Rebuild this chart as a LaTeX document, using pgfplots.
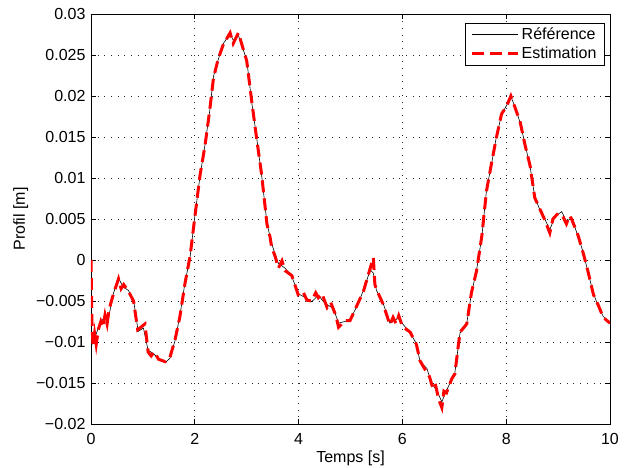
\documentclass[border=0pt]{standalone}
\usepackage{pgfplots}
\pgfplotsset{compat=1.18}
\usepackage{fontspec}
\setmainfont{Liberation Sans}

\pgfplotstableread{
x y
0 -0.0106
0.08 -0.0094
0.17 -0.0077
0.27 -0.0069
0.33 -0.0073
0.43 -0.0041
0.53 -0.0022
0.62 -0.0033
0.72 -0.0037
0.82 -0.0049
0.91 -0.0087
1.01 -0.0083
1.10 -0.0110
1.20 -0.0114
1.30 -0.0120
1.43 -0.0125
1.52 -0.0120
1.62 -0.0098
1.71 -0.0069
1.81 -0.0028
1.91 0.0004
2.00 0.0053
2.10 0.0102
2.20 0.0142
2.29 0.0183
2.36 0.0224
2.45 0.0244
2.55 0.0264
2.68 0.0276
2.74 0.0268
2.84 0.0274
3.00 0.0244
3.10 0.0191
3.19 0.0150
3.29 0.0102
3.39 0.0045
3.48 0.0020
3.61 -0.0004
3.74 -0.0010
3.87 -0.0020
3.99 -0.0041
4.16 -0.0047
4.25 -0.0051
4.38 -0.0043
4.51 -0.0053
4.67 -0.0059
4.77 -0.0077
4.89 -0.0075
4.99 -0.0073
5.12 -0.0057
5.25 -0.0037
5.38 -0.0012
5.44 -0.0016
5.50 -0.0037
5.63 -0.0053
5.76 -0.0077
5.92 -0.0071
6.02 -0.0079
6.15 -0.0089
6.27 -0.0102
6.34 -0.0124
6.47 -0.0132
6.56 -0.0150
6.66 -0.0159
6.76 -0.0173
6.85 -0.0159
6.95 -0.0146
7.01 -0.0138
7.11 -0.0089
7.24 -0.0077
7.33 -0.0041
7.43 -0.0012
7.53 0.0028
7.62 0.0085
7.72 0.0118
7.81 0.0150
7.91 0.0177
8.01 0.0189
8.09 0.0199
8.17 0.0187
8.27 0.0167
8.36 0.0142
8.46 0.0114
8.55 0.0077
8.65 0.0061
8.75 0.0049
8.84 0.0037
8.94 0.0053
9.07 0.0059
9.16 0.0047
9.26 0.0051
9.39 0.0028
9.49 0.0008
9.58 -0.0016
9.68 -0.0041
9.78 -0.0057
9.87 -0.0069
10 -0.0077
}\reftable

\pgfplotstableread{
x y
0 0.0000
0.02 -0.0080
0.04 -0.0106
0.07 -0.0090
0.10 -0.0103
0.14 -0.0085
0.19 -0.0075
0.23 -0.0082
0.27 -0.0067
0.31 -0.0078
0.35 -0.0060
0.43 -0.0042
0.53 -0.0023
0.58 -0.0035
0.63 -0.0030
0.72 -0.0038
0.82 -0.0050
0.90 -0.0085
0.96 -0.0082
1.04 -0.0078
1.10 -0.0112
1.16 -0.0117
1.22 -0.0112
1.30 -0.0121
1.43 -0.0124
1.52 -0.0119
1.62 -0.0097
1.71 -0.0070
1.81 -0.0029
1.91 0.0005
2.00 0.0052
2.10 0.0103
2.20 0.0141
2.29 0.0184
2.36 0.0222
2.45 0.0245
2.55 0.0263
2.68 0.0277
2.74 0.0264
2.84 0.0277
3.00 0.0243
3.10 0.0192
3.19 0.0149
3.29 0.0103
3.39 0.0044
3.45 0.0028
3.48 0.0016
3.55 0.0004
3.61 -0.0010
3.68 -0.0001
3.74 -0.0013
3.87 -0.0019
3.99 -0.0042
4.08 -0.0038
4.16 -0.0049
4.25 -0.0050
4.33 -0.0040
4.38 -0.0046
4.45 -0.0041
4.55 -0.0058
4.62 -0.0052
4.72 -0.0068
4.77 -0.0082
4.89 -0.0074
4.99 -0.0074
5.12 -0.0056
5.25 -0.0038
5.38 -0.0010
5.44 0.0003
5.47 -0.0030
5.50 -0.0036
5.63 -0.0054
5.76 -0.0079
5.82 -0.0070
5.88 -0.0078
5.93 -0.0068
6.00 -0.0081
6.15 -0.0088
6.27 -0.0103
6.34 -0.0123
6.45 -0.0135
6.52 -0.0142
6.58 -0.0155
6.63 -0.0150
6.70 -0.0170
6.76 -0.0180
6.80 -0.0160
6.85 -0.0162
6.95 -0.0145
7.01 -0.0139
7.11 -0.0088
7.24 -0.0078
7.33 -0.0040
7.43 -0.0013
7.53 0.0029
7.62 0.0084
7.72 0.0119
7.81 0.0149
7.91 0.0178
8.01 0.0188
8.09 0.0200
8.17 0.0186
8.27 0.0168
8.36 0.0141
8.46 0.0115
8.55 0.0076
8.65 0.0062
8.75 0.0048
8.84 0.0033
8.90 0.0050
9.00 0.0057
9.10 0.0052
9.16 0.0044
9.22 0.0054
9.26 0.0050
9.39 0.0029
9.49 0.0007
9.58 -0.0015
9.68 -0.0042
9.78 -0.0056
9.87 -0.0070
10 -0.0077
}\esttable

\begin{document}
\fontsize{16}{19}\selectfont
\begin{tikzpicture}
\path[use as bounding box] (-91pt,-44pt) rectangle (552pt,424pt);
\begin{axis}[
  scale only axis,
  width=519pt, height=410pt,
  xmin=0, xmax=10, ymin=-0.02, ymax=0.03,
  scaled x ticks=false, scaled y ticks=false,
  xtick={0,2,4,6,8,10},
  xticklabels={0,2,4,6,8,10},
  ytick={-0.02,-0.015,-0.01,-0.005,0,0.005,0.01,0.015,0.02,0.025,0.03},
  yticklabels={−0.02,−0.015,−0.01,−0.005,0,0.005,0.01,0.015,0.02,0.025,0.03},
  xtick pos=both, ytick pos=both,
  tick align=inside,
  major tick length=5pt,
  tick style={black, line width=0.6pt},
  axis line style={black, line width=0.7pt},
  grid=major,
  major grid style={black!85, line width=0.7pt, dash pattern=on 0.8pt off 5.9pt},
  ticklabel style={font=\fontsize{16}{19}\selectfont},
  xticklabel style={yshift=-4pt},
  xlabel={Temps [s]}, ylabel={Profil [m]},
  label style={font=\fontsize{16}{19}\selectfont},
  xlabel style={at={(axis description cs:0.5,-0.0829)}, anchor=center},
  ylabel style={at={(axis description cs:-0.1355,0.5)}, anchor=center},
  legend style={at={(0.989,0.979)}, anchor=north east, draw=black, line width=0.7pt,
    font=\fontsize{16}{19}\selectfont, inner xsep=5pt, inner ysep=2pt, row sep=0pt,
    nodes={inner sep=2.5pt}},
  legend cell align=left,
  legend image code/.code={\draw[#1] (0pt,0pt) -- (46pt,0pt);},
]
\addplot[black, line width=0.6pt] table[x=x, y=y] {\reftable};
\addlegendentry{Référence}
\addplot[red, line width=3pt, dash pattern=on 12pt off 6pt] table[x=x, y=y] {\esttable};
\addlegendentry{Estimation}
\end{axis}
\end{tikzpicture}
\end{document}
